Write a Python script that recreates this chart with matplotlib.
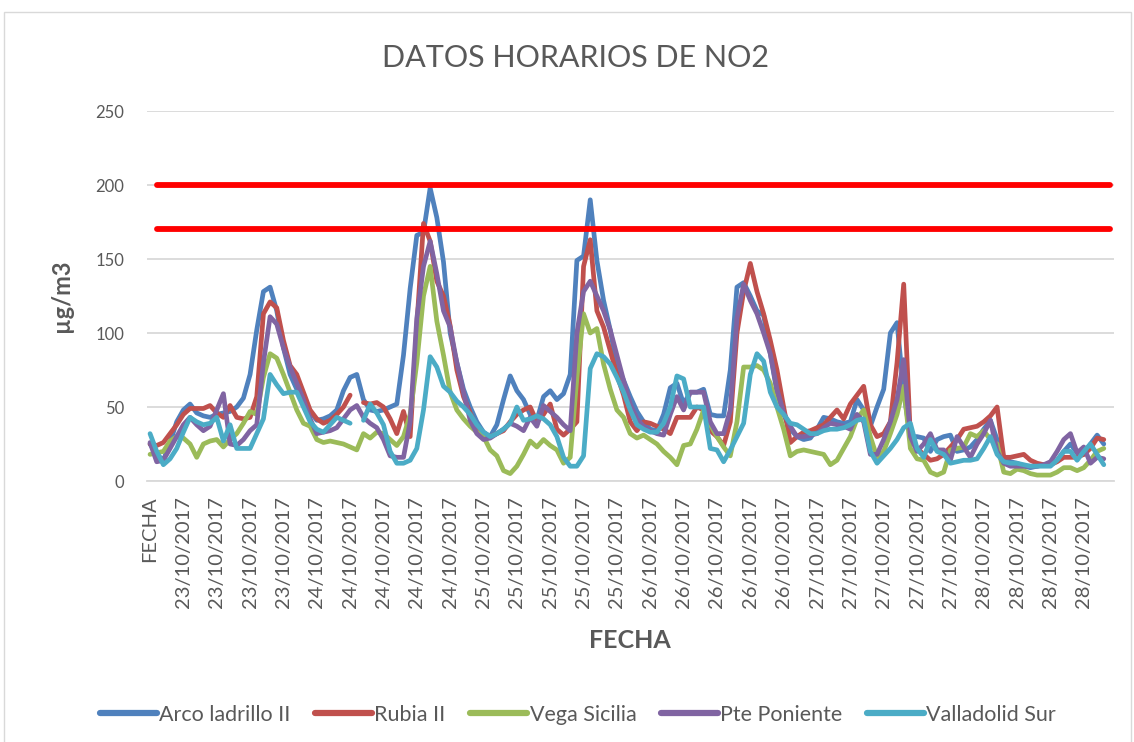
import numpy as np
import matplotlib
matplotlib.use('Agg')
import matplotlib.pyplot as plt
from matplotlib import font_manager
from matplotlib.patches import Rectangle

#------------------------------------------------------------------------------
# SETTINGS
#------------------------------------------------------------------------------

installed = set(f.name for f in font_manager.fontManager.ttflist)
font = 'Lato' if 'Lato' in installed else 'DejaVu Sans'
plt.rcParams['font.family'] = [font, 'DejaVu Sans']

grey_text = '#595959'
grid_grey = '#D9D9D9'

#------------------------------------------------------------------------------
# DATA (hourly NO2, ug/m3)
#------------------------------------------------------------------------------

dias = ['23/10/2017', '24/10/2017', '25/10/2017', '26/10/2017', '27/10/2017', '28/10/2017']
categorias = ['FECHA'] + [d for d in dias for h in range(24)]

arco_ladrillo = [25, 18, 14, 26, 40, 48, 52, 46, 44, 43, 45, 46, 47, 50, 56, 72, 102, 128, 131, 115, 90, 72, 62, 52, 47,
                 41, 42, 44, 48, 61, 70, 72, 55, 48, 47, 48, 50, 52, 85, 130, 166, 168, 198, 178, 148, 100, 80, 62, 50,
                 40, 33, 30, 38, 55, 71, 61, 55, 45, 41, 57, 61, 55, 59, 72, 149, 152, 190, 149, 122, 102, 78, 68, 57,
                 47, 40, 35, 34, 45, 63, 66, 52, 60, 60, 62, 45, 44, 44, 75, 131, 134, 125, 115, 112, 86, 60, 45, 35,
                 30, 28, 29, 35, 43, 42, 40, 39, 40, 55, 48, 37, 50, 62, 100, 107, 60, 30, 30, 29, 20, 28, 30, 31,
                 20, 21, 23, 28, 35, 41, 28, 16, 13, 12, 10, 9, 10, 11, 11, 14, 20, 25, 19, 18, 25, 31, 25]

rubia = [25, 24, 26, 32, 38, 45, 49, 49, 49, 51, 46, 43, 51, 43, 42, 43, 57, 113, 121, 117, 95, 78, 72, 60, 48,
         42, 39, 41, 45, 50, 58, np.nan, 53, 52, 53, 50, 42, 32, 47, 30, 105, 174, 162, 135, 125, 105, 75, 57, 46,
         36, 31, 30, 32, 34, 40, 45, 48, 50, 40, 45, 52, 35, 31, 35, 40, 145, 163, 115, 104, 88, 72, 58, 40,
         34, 40, 39, 37, 35, 32, 43, 43, 43, 50, 48, 34, 30, 24, 40, 100, 128, 147, 128, 113, 95, 75, 50, 26,
         30, 33, 34, 36, 38, 43, 48, 42, 52, 58, 64, 38, 30, 32, 40, 80, 133, 30, 22, 18, 14, 15, 18, 23,
         28, 35, 36, 37, 40, 44, 50, 16, 16, 17, 18, 14, 12, 11, 11, 13, 16, 16, 16, 18, 22, 29, 28]

vega_sicilia = [18, 19, 20, 27, 30, 29, 25, 16, 25, 27, 28, 23, 28, 32, 39, 47, 45, 70, 86, 83, 72, 60, 48, 39, 37,
                28, 26, 27, 26, 25, 23, 21, 32, 29, 33, 32, 28, 24, 30, 45, 80, 125, 145, 108, 85, 60, 48, 42, 37,
                33, 30, 21, 17, 7, 5, 10, 18, 27, 23, 28, 24, 21, 12, 16, 70, 113, 100, 103, 79, 62, 48, 43, 32,
                29, 31, 28, 25, 20, 16, 11, 24, 25, 35, 48, 38, 30, 23, 17, 40, 77, 77, 78, 75, 66, 50, 35, 17,
                20, 21, 20, 19, 18, 11, 14, 22, 30, 42, 48, 30, 16, 20, 32, 45, 64, 22, 15, 14, 6, 4, 6, 21,
                22, 23, 32, 30, 34, 28, 25, 6, 5, 8, 7, 5, 4, 4, 4, 6, 9, 9, 7, 9, 14, 20, 22]

pte_poniente = [26, 13, 14, 22, 30, 38, 43, 38, 34, 37, 48, 59, 25, 24, 28, 34, 38, 80, 111, 106, 90, 77, 66, 55, 42,
                32, 33, 34, 36, 42, 48, 51, 43, 39, 36, 28, 17, 16, 16, 40, 110, 145, 162, 140, 115, 104, 80, 60, 41,
                32, 28, 29, 32, 35, 39, 37, 34, 43, 37, 51, 47, 43, 38, 34, 100, 128, 135, 125, 115, 102, 85, 68, 52,
                42, 37, 34, 32, 31, 45, 57, 48, 60, 60, 60, 40, 32, 32, 48, 110, 133, 122, 113, 100, 86, 62, 46, 37,
                30, 30, 31, 32, 36, 39, 38, 37, 35, 45, 40, 18, 18, 28, 40, 55, 82, 30, 20, 25, 32, 21, 21, 14,
                30, 23, 16, 25, 32, 41, 20, 12, 10, 10, 10, 10, 10, 11, 13, 20, 28, 32, 19, 23, 12, 16, 15]

valladolid_sur = [32, 20, 11, 15, 22, 33, 43, 40, 38, 39, 43, 27, 38, 22, 22, 22, 32, 42, 72, 65, 59, 60, 60, 50, 40,
                  35, 33, 38, 43, 41, 39, np.nan, 41, 52, 46, 38, 20, 12, 12, 14, 22, 48, 84, 77, 64, 60, 54, 50, 45,
                  38, 33, 30, 32, 35, 39, 50, 41, 42, 44, 42, 38, 30, 16, 10, 10, 17, 76, 86, 84, 79, 70, 60, 48,
                  38, 35, 33, 33, 39, 50, 71, 69, 50, 50, 50, 22, 21, 13, 21, 30, 39, 72, 86, 81, 60, 50, 45, 39,
                  38, 35, 32, 32, 34, 35, 35, 36, 38, 41, 42, 20, 12, 17, 22, 28, 36, 39, 22, 16, 28, 20, 18, 12,
                  13, 14, 14, 15, 22, 30, 18, 13, 12, 12, 11, 10, 10, 10, 10, 14, 20, 20, 14, 20, 25, 18, 11]

limites = [200, 170]

series = [('Arco ladrillo II', arco_ladrillo, '#4F81BD'),
          ('Rubia II', rubia, '#C0504D'),
          ('Vega Sicilia', vega_sicilia, '#9BBB59'),
          ('Pte Poniente', pte_poniente, '#8064A2'),
          ('Valladolid Sur', valladolid_sur, '#4BACC6')]

#------------------------------------------------------------------------------
# PLOT
#------------------------------------------------------------------------------

fig = plt.figure(figsize=(11.34, 7.42), dpi=100)
ax = fig.add_axes([146.7/1134, 1 - 481/742, (1113.8 - 146.7)/1134, 370/742])

# chart area border
fig.patches.append(Rectangle((4/1134, -0.1), 1127/1134, 1 - 12/742 + 0.1, transform=fig.transFigure,
                             fill=False, edgecolor=grid_grey, lw=1.0))

for name, vals, col in series:
    ax.plot(np.arange(len(vals)), vals, color=col, lw=3.4, label=name,
            solid_joinstyle='round', solid_capstyle='round')

for lim in limites:
    ax.plot([1, len(categorias) - 1], [lim, lim], color='#FF0000', lw=4.2,
            solid_capstyle='round', zorder=5)

ax.set_xlim(-0.5, len(categorias) - 0.5)
ax.set_ylim(0, 250)
ax.set_yticks(range(0, 251, 50))
ax.yaxis.grid(True, color=grid_grey, lw=1.3)
ax.set_axisbelow(True)
for s in ['top', 'right', 'left']:
    ax.spines[s].set_visible(False)
ax.spines['bottom'].set_color(grid_grey)
ax.spines['bottom'].set_linewidth(1.3)

xt = list(range(0, len(categorias), 5))
ax.set_xticks(xt)
ax.set_xticklabels([categorias[i] for i in xt], rotation=90, fontsize=14.5, color=grey_text)
ax.tick_params(axis='x', length=0, pad=11)
ax.tick_params(axis='y', length=0, pad=16, labelsize=12, labelcolor=grey_text)

ax.set_xlabel('FECHA', fontsize=18, fontweight='bold', color=grey_text)
ax.xaxis.set_label_coords(0.5, -(640 - 481)/370, transform=ax.transAxes)
ax.xaxis.label.set_va('center')
ax.set_ylabel('µg/m3', fontsize=17, fontweight='bold', color=grey_text)
ax.yaxis.set_label_coords((62 - 146.7)/967, 0.5)
ax.yaxis.label.set_va('center')

fig.text(576/1134, 1 - 58/742, 'DATOS HORARIOS DE NO2', ha='center', va='center',
         fontsize=22, color=grey_text, fontweight='normal')

leg = fig.legend(loc='center', bbox_to_anchor=(578/1134, 1 - 715/742), ncol=5, frameon=False,
                 fontsize=15.5, handlelength=2.65, handletextpad=0.1, columnspacing=1.15)
for t in leg.get_texts():
    t.set_color(grey_text)
for l in leg.get_lines():
    l.set_linewidth(4.5)

plt.savefig('out.png', dpi=100)
